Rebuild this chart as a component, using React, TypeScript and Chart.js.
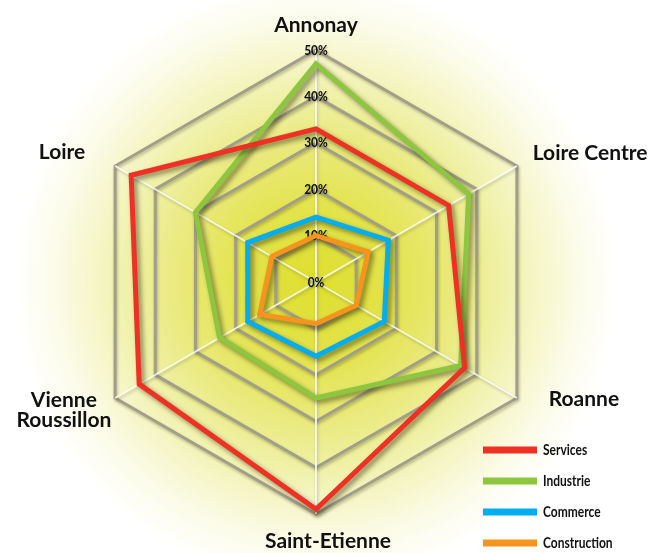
import React, { useEffect, useRef } from 'react';
import { Chart, registerables } from 'chart.js';

Chart.register(...registerables);

const categories: (string | string[])[] = ['Annonay', 'Loire Centre', 'Roanne', 'Saint-Etienne', ['Vienne', 'Roussillon'], 'Loire'];
const seriesNames = ['Services', 'Industrie', 'Commerce', 'Construction'];
const services = [33, 33, 37, 49, 44, 46];
const industrie = [47, 38, 36, 25, 24, 30];
const commerce = [14, 18, 17, 16, 17, 17];
const construction = [10, 13, 10, 9, 14, 11];
const tickStep = 10;
const scaleMax = 50;
const seriesColors = ['#ee3124', '#8dc63f', '#00aeef', '#f7941d'];

// small typographic nudges for the category labels (dx, dy)
const labelNudge: [number, number][] = [[0, -1], [-5, -1], [11, -11], [12, 3], [17, 0], [-9, -2]];

const SANS = "Lato, 'Open Sans', sans-serif";
const LABEL_FONT = `bold 21px ${SANS}`;

function narrowText(ctx: CanvasRenderingContext2D, text: string, x: number, y: number, sx: number) {
  ctx.save();
  ctx.translate(x, y);
  ctx.scale(sx, 1);
  ctx.fillText(text, 0, 0);
  ctx.restore();
}

const decorPlugin = {
  id: 'decor',
  beforeDraw(chart: any) {
    const { ctx, width, height } = chart;
    const s = chart.scales.r;
    const g = ctx.createRadialGradient(s.xCenter, s.yCenter, 0, s.xCenter, s.yCenter, s.drawingArea * 1.3);
    g.addColorStop(0, 'rgb(222,222,46)');
    g.addColorStop(0.25, 'rgb(227,227,76)');
    g.addColorStop(0.5, 'rgb(235,235,135)');
    g.addColorStop(0.72, 'rgb(245,245,196)');
    g.addColorStop(0.86, 'rgb(251,251,232)');
    g.addColorStop(1, 'rgb(255,255,255)');
    ctx.save();
    ctx.fillStyle = '#ffffff';
    ctx.fillRect(0, 0, width, height);
    ctx.fillStyle = g;
    ctx.fillRect(0, 0, width, height);
    ctx.restore();
    ctx.shadowColor = 'rgba(70,70,30,0.35)';
    ctx.shadowBlur = 3;
    ctx.shadowOffsetX = 1;
    ctx.shadowOffsetY = 2;
  },
  beforeDatasetsDraw(chart: any) {
    const { ctx } = chart;
    const s = chart.scales.r;
    // tick labels (including 0%)
    ctx.save();
    ctx.shadowColor = 'rgba(0,0,0,0.25)';
    ctx.shadowBlur = 2;
    ctx.shadowOffsetX = 1;
    ctx.shadowOffsetY = 1;
    ctx.font = `bold 14px ${SANS}`;
    ctx.fillStyle = '#111';
    ctx.textAlign = 'center';
    ctx.textBaseline = 'middle';
    s.ticks.forEach((t: any) => {
      const p = s.getPointPositionForValue(0, t.value);
      narrowText(ctx, `${t.value}%`, p.x, p.y, 0.85);
    });
    ctx.restore();
    ctx.shadowColor = 'rgba(40,40,10,0.55)';
    ctx.shadowBlur = 5;
    ctx.shadowOffsetX = 3;
    ctx.shadowOffsetY = 3;
  },
  afterDatasetsDraw(chart: any) {
    const { ctx } = chart;
    ctx.shadowColor = 'rgba(0,0,0,0)';
    ctx.shadowBlur = 0;
    ctx.shadowOffsetX = 0;
    ctx.shadowOffsetY = 0;
  },
  afterDraw(chart: any) {
    const { ctx } = chart;
    const s = chart.scales.r;
    ctx.save();
    ctx.shadowColor = 'rgba(0,0,0,0)';

    // point labels
    ctx.font = LABEL_FONT;
    ctx.fillStyle = '#111';
    const labels = chart.data.labels;
    const lh = 20;
    for (let i = 0; i < labels.length; i++) {
      const lines: string[] = Array.isArray(labels[i]) ? labels[i] : [labels[i]];
      const pos = s.getPointPosition(i, s.drawingArea + 24);
      const deg = (s.getIndexAngle(i) * 180) / Math.PI;
      const maxW = Math.max(...lines.map((l) => ctx.measureText(l).width));
      let cx = pos.x;
      if (Math.abs(deg) < 1 || Math.abs(deg - 180) < 1) cx = pos.x;
      else if (deg < 180) cx = pos.x + maxW / 2;
      else cx = pos.x - maxW / 2;
      const nudge = labelNudge[i] || [0, 0];
      cx += nudge[0];
      const top = pos.y + nudge[1] - (lines.length * lh) / 2;
      ctx.textAlign = 'center';
      ctx.textBaseline = 'middle';
      lines.forEach((l, k) => ctx.fillText(l, cx, top + lh * k + lh / 2));
    }

    // legend
    const lx = chart.width - 169;
    const ly = chart.height - 103;
    ctx.font = `bold 15px ${SANS}`;
    ctx.textAlign = 'left';
    ctx.textBaseline = 'middle';
    chart.data.datasets.forEach((ds: any, k: number) => {
      const y = ly + k * 31;
      ctx.fillStyle = ds.borderColor;
      ctx.fillRect(lx, y - 3.5, 54, 7);
      ctx.fillStyle = '#111';
      narrowText(ctx, ds.label, lx + 60, y, 0.8);
    });
    ctx.restore();
  },
};

export default function App() {
  const ref = useRef<HTMLCanvasElement | null>(null);
  useEffect(() => {
    if (!ref.current) return;
    const series = [services, industrie, commerce, construction];
    const chart = new Chart(ref.current, {
      type: 'radar',
      data: {
        labels: categories as any,
        datasets: series.map((d, k) => ({
          label: seriesNames[k],
          data: d,
          borderColor: seriesColors[k],
          backgroundColor: 'rgba(0,0,0,0)',
          borderWidth: 5,
          borderJoinStyle: 'miter' as const,
          fill: false,
          pointRadius: 0,
          pointHoverRadius: 0,
          tension: 0,
        })),
      },
      options: {
        animation: false,
        responsive: true,
        maintainAspectRatio: false,
        layout: { padding: { left: 84, right: 104, top: 50, bottom: 39 } },
        plugins: { legend: { display: false }, tooltip: { enabled: false } },
        scales: {
          r: {
            min: 0,
            max: scaleMax,
            beginAtZero: true,
            angleLines: { color: 'rgba(255,255,255,0.8)', lineWidth: 2 },
            grid: { color: '#a19e8a', lineWidth: 3 },
            pointLabels: { display: false },
            ticks: {
              stepSize: tickStep,
              display: false,
            },
          },
        },
      },
      plugins: [decorPlugin],
    });
    return () => chart.destroy();
  }, []);
  return (
    <div style={{ position: 'absolute', left: 0, top: 0, width: 652, height: 553 }}>
      <canvas ref={ref} />
    </div>
  );
}
